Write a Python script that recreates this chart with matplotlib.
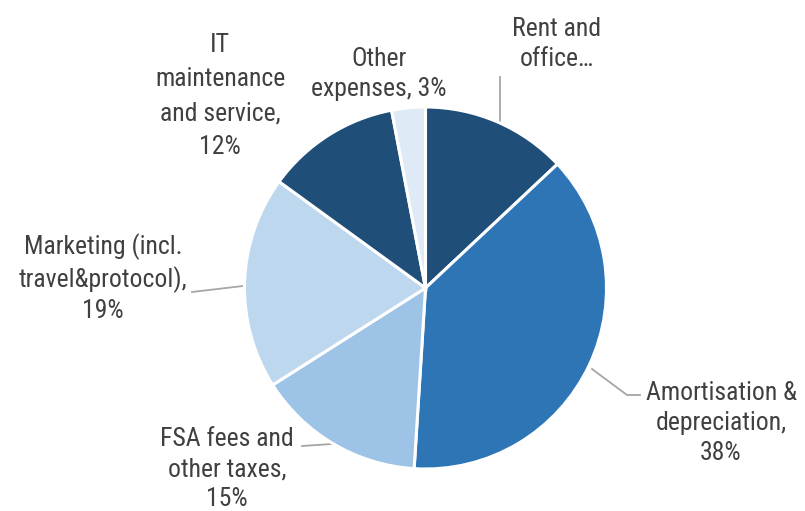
import matplotlib.pyplot as plt

# cost structure, clockwise from 12 o'clock
categories = ["Rent and\noffice\u2026", "Amortisation &\ndepreciation,\n38%", "FSA fees and\nother taxes,\n15%",
              "Marketing (incl.\ntravel&protocol),\n19%", "IT\nmaintenance\nand service,\n12%", "Other\nexpenses, 3%"]
shares = [13, 38, 15, 19, 12, 3]
colors = ["#1f4e79", "#2e75b6", "#9dc3e6", "#bdd7ee", "#1f4e79", "#deebf7"]

W, H = 805, 511
plt.rcParams['font.family'] = ['Roboto Condensed', 'Liberation Sans Narrow', 'Roboto', 'DejaVu Sans']

fig = plt.figure(figsize=(W / 100, H / 100), dpi=100)
ax = fig.add_axes([0, 0, 1, 1])

cx, cy, r = 425.5, 288, 181
ax.pie(shares, colors=colors, startangle=90, counterclock=False,
       center=(cx, H - cy), radius=r,
       wedgeprops=dict(edgecolor="white", linewidth=2.2))

# label placement (pixel coords, top-left origin) and line spacing
label_pos = [(557, 44, 1.32), (721, 423, 1.32), (227, 469, 1.32),
             (103, 278, 1.32), (220, 96, 1.53), (379, 74, 1.32)]
for text, (x, y, ls) in zip(categories, label_pos):
    ax.text(x, H - y, text, ha="center", va="center", fontsize=18.5,
            color="#404040", linespacing=ls)

# leader lines
leaders = [
    [(500, 77), (500, 123)],
    [(592, 369), (627, 395), (640, 395)],
    [(302, 446), (332, 444)],
    [(192, 292), (243, 286)],
]
for pts in leaders:
    xs = [p[0] for p in pts]
    ys = [H - p[1] for p in pts]
    ax.plot(xs, ys, color="#a6a6a6", linewidth=1.3, zorder=0)

ax.set_xlim(0, W)
ax.set_ylim(0, H)
ax.set_aspect("equal")
ax.axis("off")

fig.savefig("out.png", dpi=100)
